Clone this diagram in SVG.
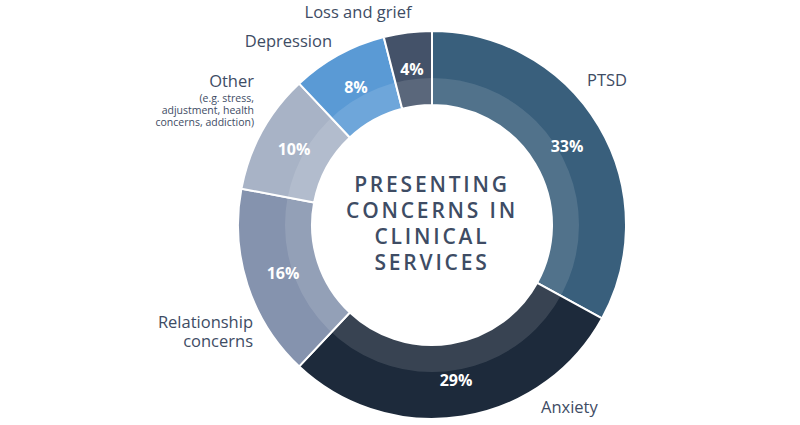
<svg xmlns="http://www.w3.org/2000/svg" width="800" height="425" viewBox="0 0 800 425">
<style>
.seg{stroke:#ffffff;stroke-width:2;stroke-linejoin:miter}
.lbl{font-family:"Open Sans","Noto Sans","Liberation Sans",sans-serif;font-size:16.5px;fill:#3e4c64}
.sub{font-family:"Open Sans","Noto Sans","Liberation Sans",sans-serif;font-size:10.5px;fill:#3e4c64}
.pct{font-family:"Open Sans","Noto Sans","Liberation Sans",sans-serif;font-size:16px;font-weight:700;fill:#ffffff;text-anchor:middle}
.title{font-family:"Open Sans","Noto Sans","Liberation Sans",sans-serif;font-size:21px;font-weight:600;fill:#3e4c64;text-anchor:middle;letter-spacing:2.8px}
</style>
<rect width="800" height="425" fill="#ffffff"/>
<g id="ptsd">
<path class="seg" fill="#395f7c" d="M432,31 A194,194 0 0 1 602.00,318.46 L537.16,282.81 A120,120 0 0 0 432,105 Z"/>
<text class="pct" x="567" y="152">33%</text>
<text class="lbl" x="587" y="86">PTSD</text>
</g>
<g id="anxiety">
<path class="seg" fill="#1d2a3b" d="M602.00,318.46 A194,194 0 0 1 299.20,366.42 L349.85,312.48 A120,120 0 0 0 537.16,282.81 Z"/>
<text class="pct" x="456" y="386">29%</text>
<text class="lbl" x="541" y="413">Anxiety</text>
</g>
<g id="relationship">
<path class="seg" fill="#8593ae" d="M299.20,366.42 A194,194 0 0 1 241.44,188.65 L314.13,202.51 A120,120 0 0 0 349.85,312.48 Z"/>
<text class="pct" x="283" y="279">16%</text>
<text class="lbl" x="253" y="328" text-anchor="end">Relationship</text>
<text class="lbl" x="253" y="347" text-anchor="end">concerns</text>
</g>
<g id="other">
<path class="seg" fill="#a8b3c6" d="M241.44,188.65 A194,194 0 0 1 299.20,83.58 L349.85,137.52 A120,120 0 0 0 314.13,202.51 Z"/>
<text class="pct" x="294" y="155">10%</text>
<text class="lbl" x="254" y="87" text-anchor="end">Other</text>
<text class="sub" x="254" y="102" text-anchor="end">(e.g. stress,</text>
<text class="sub" x="254" y="114" text-anchor="end">adjustment, health</text>
<text class="sub" x="254" y="126" text-anchor="end">concerns, addiction)</text>
</g>
<g id="depression">
<path class="seg" fill="#5a9ad5" d="M299.20,83.58 A194,194 0 0 1 383.75,37.10 L402.16,108.77 A120,120 0 0 0 349.85,137.52 Z"/>
<text class="pct" x="356" y="93">8%</text>
<text class="lbl" x="332" y="47" text-anchor="end">Depression</text>
</g>
<g id="loss">
<path class="seg" fill="#445269" d="M383.75,37.10 A194,194 0 0 1 432,31 L432,105 A120,120 0 0 0 402.16,108.77 Z"/>
<text class="pct" x="412" y="75">4%</text>
<text class="lbl" x="358" y="18" text-anchor="middle">Loss and grief</text>
</g>
<g id="connectors"></g>
<circle cx="432" cy="225" r="133.5" fill="none" stroke="#ffffff" stroke-opacity="0.12" stroke-width="27"/>
<g id="title">
<text class="title" x="432" y="192">PRESENTING</text>
<text class="title" x="432" y="218">CONCERNS IN</text>
<text class="title" x="432" y="244">CLINICAL</text>
<text class="title" x="432" y="270">SERVICES</text>
</g>
</svg>
